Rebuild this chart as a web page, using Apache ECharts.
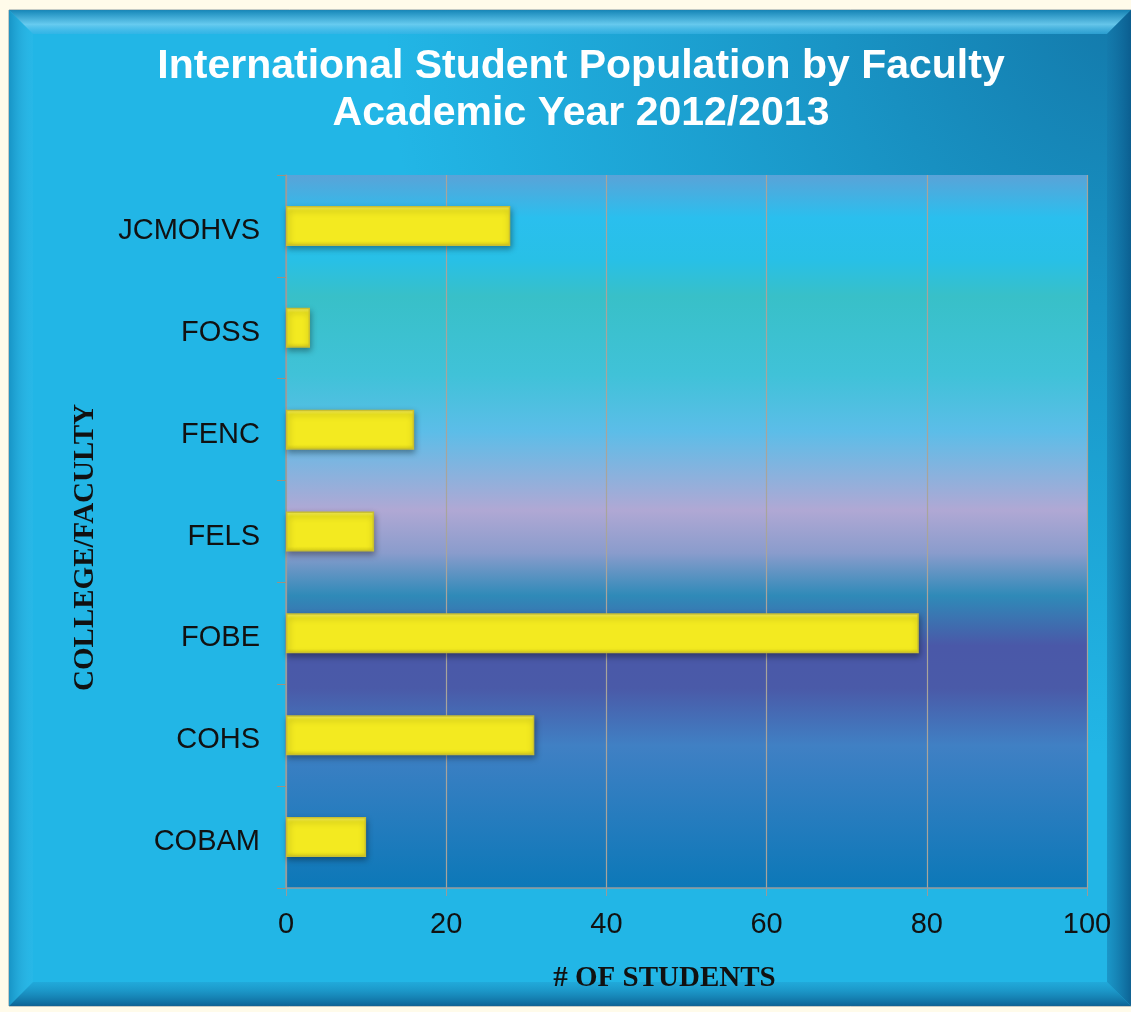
<!DOCTYPE html>
<html>
<head>
<meta charset="utf-8">
<script src="https://cdn.jsdelivr.net/npm/echarts@6/dist/echarts.min.js"></script>
<style>
html,body{margin:0;padding:0;background:#fffbea;}
#c{width:1131px;height:1012px;}
</style>
</head>
<body>
<div id="c"></div>
<script>
const categories = ['COBAM','COHS','FOBE','FELS','FENC','FOSS','JCMOHVS'];
const students = [10, 31, 79, 11, 16, 3, 28];
const xTicks = [0, 20, 40, 60, 80, 100];
const titleLines = ['International Student Population by Faculty', 'Academic Year 2012/2013'];

const chart = echarts.init(document.getElementById('c'), null, {renderer:'canvas'});
const L = 9, T = 10, R = 1131, B = 1006, bv = 24;

const option = {
  backgroundColor: '#fffbea',
  animation: false,
  graphic: [
    {type:'rect', z:-10, shape:{x:L,y:T,width:R-L,height:B-T},
     style:{fill:'#22b6e6', stroke:'#8a9aa0', lineWidth:1}},
    {type:'rect', z:-9, shape:{x:L,y:T,width:R-L,height:B-T},
     style:{fill:new echarts.graphic.RadialGradient(1,0,0.75,[
       {offset:0,color:'rgba(14,100,150,0.75)'},
       {offset:0.6,color:'rgba(14,110,160,0.3)'},
       {offset:1,color:'rgba(14,110,160,0)'}])}},
    {type:'polygon', z:-8, shape:{points:[[L,T],[R,T],[R-bv,T+bv],[L+bv,T+bv]]},
     style:{fill:new echarts.graphic.LinearGradient(0,0,0,1,[
       {offset:0,color:'rgba(20,130,180,0.9)'},{offset:0.6,color:'rgba(110,205,240,0.9)'},{offset:1,color:'rgba(60,180,230,0.6)'}])}},
    {type:'polygon', z:-8, shape:{points:[[L,T],[L+bv,T+bv],[L+bv,B-bv],[L,B]]},
     style:{fill:new echarts.graphic.LinearGradient(0,0,1,0,[
       {offset:0,color:'rgba(20,140,190,0.8)'},{offset:1,color:'rgba(60,190,235,0.2)'}])}},
    {type:'polygon', z:-8, shape:{points:[[R,T],[R,B],[R-bv,B-bv],[R-bv,T+bv]]},
     style:{fill:new echarts.graphic.LinearGradient(0,0,1,0,[
       {offset:0,color:'rgba(20,120,170,0.5)'},{offset:1,color:'rgba(10,90,140,0.9)'}])}},
    {type:'polygon', z:-8, shape:{points:[[L,B],[L+bv,B-bv],[R-bv,B-bv],[R,B]]},
     style:{fill:new echarts.graphic.LinearGradient(0,0,0,1,[
       {offset:0,color:'rgba(30,150,200,0.4)'},{offset:1,color:'rgba(10,90,140,0.9)'}])}}
  ],
  title: {
    text: titleLines.join('\n'),
    left: 576, top: 38, textAlign: 'center',
    textStyle: {color:'#ffffff', fontFamily:'Liberation Sans, Arial, sans-serif', fontWeight:'bold', fontSize:41, lineHeight:47}
  },
  grid: {
    left: 286, right: 44, top: 175, bottom: 124,
    show: true, borderWidth: 0,
    backgroundColor: new echarts.graphic.LinearGradient(0,0,0,1,[
      {offset:0.00,color:'#5aa3d8'},
      {offset:0.06,color:'#2abfee'},
      {offset:0.12,color:'#28c0e6'},
      {offset:0.17,color:'#38c0c8'},
      {offset:0.28,color:'#40c2d8'},
      {offset:0.36,color:'#5cbde8'},
      {offset:0.47,color:'#b0a8d4'},
      {offset:0.53,color:'#8a9ccc'},
      {offset:0.59,color:'#2f8ab8'},
      {offset:0.66,color:'#4a58a8'},
      {offset:0.72,color:'#4a5aa8'},
      {offset:0.80,color:'#4080c4'},
      {offset:1.00,color:'#0c78b8'}
    ])
  },
  xAxis: {
    type: 'value', min: xTicks[0], max: xTicks[xTicks.length-1], interval: 20,
    name: '# OF STUDENTS', nameLocation: 'middle', nameGap: 76,
    nameTextStyle: {fontFamily:'Liberation Serif, Times New Roman, serif', fontWeight:'bold', fontSize:29, color:'#111', padding:[0,44,0,0]},
    axisLine: {show:true, lineStyle:{color:'#9a9a9a', width:1.5}},
    axisTick: {show:true, length:8, lineStyle:{color:'#9a9a9a'}},
    splitLine: {show:true, lineStyle:{color:'#a8a49c', width:1.2}},
    axisLabel: {margin:22, fontFamily:'Liberation Sans, Arial, sans-serif', fontSize:29, color:'#111'}
  },
  yAxis: {
    type: 'category', data: categories,
    name: 'COLLEGE/FACULTY', nameLocation: 'middle', nameGap: 186,
    nameTextStyle: {fontFamily:'Liberation Serif, Times New Roman, serif', fontWeight:'bold', fontSize:29, color:'#111', padding:[0,32,0,0]},
    axisLine: {show:true, lineStyle:{color:'#9a9a9a', width:1.5}},
    axisTick: {show:true, length:9, lineStyle:{color:'#a09080'}},
    axisLabel: {margin:26, verticalAlign:'top', lineHeight:10, fontFamily:'Liberation Sans, Arial, sans-serif', fontSize:29, color:'#111'}
  },
  series: [{
    type: 'bar', data: students, barWidth: 40,
    itemStyle: {
      color: new echarts.graphic.LinearGradient(0,0,0,1,[
        {offset:0,color:'#f6ee60'},{offset:0.12,color:'#f3ea20'},{offset:0.88,color:'#f3ea20'},{offset:1,color:'#d8cf18'}]),
      borderColor:'#c9c030', borderWidth:1.5,
      shadowColor:'rgba(0,0,0,0.35)', shadowBlur:6, shadowOffsetY:3, shadowOffsetX:1
    }
  }]
};
chart.setOption(option);
</script>
</body>
</html>
